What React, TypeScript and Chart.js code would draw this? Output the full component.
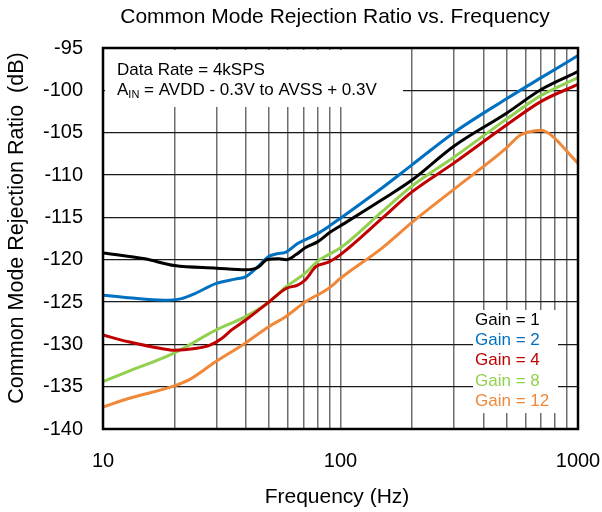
import React, { useEffect, useRef } from "react";
import { Chart, registerables } from "chart.js";

Chart.register(...registerables);

const FONT = "'Liberation Sans', Arial, sans-serif";

const xTickValues = [10, 20, 30, 40, 50, 60, 70, 80, 90, 100, 200, 300, 400, 500, 600, 700, 800, 900, 1000];
const xTickLabels = ["10", "100", "1000"];

const freqGain1 = [10, 15, 20, 30, 40, 45, 49, 55, 59, 65, 71, 80, 90, 100, 150, 200, 300, 500, 700, 1000];
const dbGain1 = [-119.2, -119.9, -120.7, -121.0, -121.2, -120.9, -120.0, -119.9, -120.0, -119.4, -118.6, -117.9, -116.8, -116.0, -112.9, -110.6, -106.6, -102.7, -99.9, -97.8];

const freqGain2 = [10, 12.8, 18, 21.4, 24.4, 30, 36, 40, 45, 50, 54, 59, 66, 78, 89, 100, 150, 200, 300, 500, 700, 1000];
const dbGain2 = [-124.2, -124.5, -124.8, -124.6, -124.0, -122.8, -122.3, -122.0, -120.8, -119.6, -119.3, -119.1, -118.1, -117.1, -116.1, -115.1, -111.5, -108.8, -105.0, -101.0, -98.5, -95.9];

const freqGain4 = [10, 12.8, 17.6, 20, 24.4, 28.2, 31.6, 34.8, 40, 50, 59, 66, 71, 79, 89, 100, 150, 200, 300, 500, 700, 1000];
const dbGain4 = [-128.9, -129.7, -130.5, -130.7, -130.5, -130.1, -129.3, -128.3, -127.1, -125.0, -123.4, -123.0, -122.4, -120.8, -120.3, -119.4, -115.1, -112.0, -108.6, -104.1, -101.3, -99.3];

const freqGain8 = [10, 12.8, 20, 30, 40, 50, 59, 71, 80, 89, 100, 150, 200, 300, 500, 700, 1000];
const dbGain8 = [-134.4, -133.2, -131.0, -128.3, -126.7, -125.0, -123.2, -121.6, -120.2, -119.4, -118.6, -114.3, -111.3, -107.9, -103.4, -100.6, -98.5];

const freqGain12 = [10, 12.8, 20, 23, 30, 40, 50, 59, 71, 89, 100, 150, 200, 300, 500, 570, 650, 700, 764, 840, 925, 1000];
const dbGain12 = [-137.4, -136.4, -134.9, -134.2, -132.0, -129.8, -127.9, -126.7, -125.0, -123.4, -122.2, -118.6, -115.6, -111.7, -106.8, -105.3, -104.8, -104.7, -105.2, -106.3, -107.6, -108.6];

const seriesNames = ["Gain = 1", "Gain = 2", "Gain = 4", "Gain = 8", "Gain = 12"];
const seriesColors = ["#000000", "#0070C0", "#C00000", "#92D050", "#F0883A"];
const seriesFreqs = [freqGain1, freqGain2, freqGain4, freqGain8, freqGain12];
const seriesDb = [dbGain1, dbGain2, dbGain4, dbGain8, dbGain12];

const titleText = "Common Mode Rejection Ratio vs. Frequency";
const xTitle = "Frequency (Hz)";
const yTitle = "Common Mode Rejection Ratio  (dB)";
const noteLine1 = "Data Rate = 4kSPS";
const noteLine2Rest = " = AVDD - 0.3V to AVSS + 0.3V";

const decorPlugin = {
  id: "decor",
  beforeDatasetsDraw(chart: any) {
    const ctx = chart.ctx;
    const a = chart.chartArea;
    ctx.save();
    ctx.fillStyle = "#ffffff";
    ctx.fillRect(a.left + 2, a.top + 2, 403 - a.left - 2, 107 - a.top - 2);
    ctx.fillRect(473, 310, 85, 103);
    ctx.restore();
  },
  afterDatasetsDraw(chart: any) {
    const ctx = chart.ctx;
    ctx.save();
    ctx.textBaseline = "middle";
    ctx.textAlign = "left";
    ctx.fillStyle = "#000";
    ctx.font = `17px ${FONT}`;
    ctx.fillText(noteLine1, 117, 70);
    ctx.fillText("A", 117, 90);
    const aw = ctx.measureText("A").width;
    ctx.font = `11px ${FONT}`;
    ctx.fillText("IN", 117 + aw, 95);
    const iw = ctx.measureText("IN").width;
    ctx.font = `17px ${FONT}`;
    ctx.fillText(noteLine2Rest, 117 + aw + iw, 90);
    seriesNames.forEach((n, i) => {
      ctx.fillStyle = seriesColors[i];
      ctx.fillText(n, 475, 320 + i * 20.3);
    });
    ctx.restore();
  },
  afterDraw(chart: any) {
    const ctx = chart.ctx;
    const a = chart.chartArea;
    ctx.save();
    ctx.strokeStyle = "#000";
    ctx.lineWidth = 2.5;
    ctx.strokeRect(a.left, a.top, a.right - a.left, a.bottom - a.top);
    ctx.fillStyle = "#000";
    ctx.textAlign = "center";
    ctx.textBaseline = "middle";
    ctx.font = `21px ${FONT}`;
    ctx.fillText(titleText, 335, 17);
    ctx.fillText(xTitle, 337, 497);
    ctx.font = `21.5px ${FONT}`;
    ctx.translate(17, 228);
    ctx.rotate(-Math.PI / 2);
    ctx.fillText(yTitle, 0, 0);
    ctx.restore();
  },
};

export default function App() {
  const ref = useRef<HTMLCanvasElement>(null);
  useEffect(() => {
    if (!ref.current) return;
    const chart = new Chart(ref.current, {
      type: "line",
      data: {
        datasets: seriesNames.map((name, i) => ({
          label: name,
          data: seriesFreqs[i].map((f, j) => ({ x: f, y: seriesDb[i][j] })),
          borderColor: seriesColors[i],
          borderWidth: 3,
          pointRadius: 0,
          fill: false,
          cubicInterpolationMode: "monotone" as const,
        })),
      },
      options: {
        responsive: false,
        animation: false,
        layout: { padding: { top: 48, right: 24, left: 0, bottom: 0 } },
        plugins: { legend: { display: false }, title: { display: false }, tooltip: { enabled: false } },
        scales: {
          x: {
            type: "logarithmic",
            min: 10,
            max: 1000,
            afterFit: (s: any) => { s.height = 83; s.paddingLeft = 0; s.paddingRight = 0; },
            afterBuildTicks: (s: any) => { s.ticks = xTickValues.map((v) => ({ value: v })); },
            grid: { color: "#6e6e6e", lineWidth: 1.5, drawTicks: false },
            border: { display: false },
            ticks: {
              autoSkip: false,
              maxRotation: 0,
              padding: 20,
              color: "#000",
              font: { family: FONT, size: 20 },
              callback: (v: any) => (xTickLabels.includes(String(v)) ? String(v) : ""),
            },
          },
          y: {
            type: "linear",
            min: -140,
            max: -95,
            afterFit: (s: any) => { s.width = 103; s.paddingTop = 0; s.paddingBottom = 0; },
            grid: { color: "#1a1a1a", lineWidth: 1.3, drawTicks: false },
            border: { display: false },
            ticks: { stepSize: 5, padding: 20, color: "#000", font: { family: FONT, size: 20 } },
          },
        },
      },
      plugins: [decorPlugin],
    });
    return () => chart.destroy();
  }, []);
  return (
    <div style={{ position: "absolute", left: 0, top: 0, width: 602, height: 512, background: "#fff" }}>
      <canvas ref={ref} width={602} height={512} style={{ width: 602, height: 512 }} />
    </div>
  );
}
